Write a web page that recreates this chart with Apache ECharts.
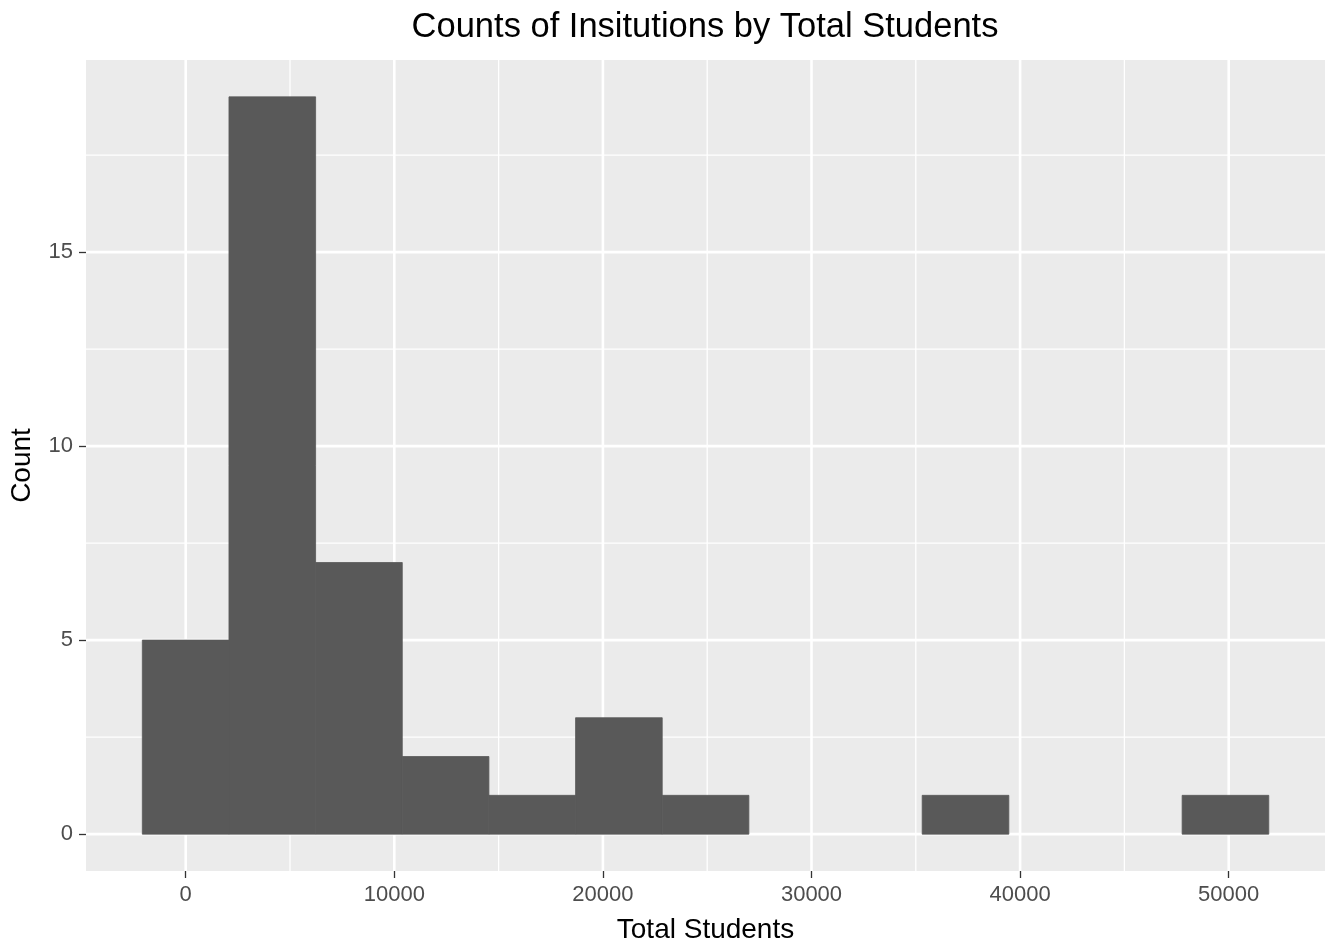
<!DOCTYPE html>
<html>
<head>
<meta charset="utf-8">
<script src="https://cdn.jsdelivr.net/npm/echarts@6/dist/echarts.min.js"></script>
<style>
html,body{margin:0;padding:0;background:#fff;overflow:hidden;}
#chart{width:1325px;height:949px;}
</style>
</head>
<body>
<div id="chart"></div>
<script>
// Histogram bins (Total Students) and counts
var binStarts = [-2080, 2074, 6228, 10382, 14536, 18690, 22844, 26998, 31152, 35306, 39460, 43614, 47768];
var binEnds   = [2074, 6228, 10382, 14536, 18690, 22844, 26998, 31152, 35306, 39460, 43614, 47768, 51922];
var counts    = [5, 19, 7, 2, 1, 3, 1, 0, 0, 1, 0, 0, 1];

// Axis ticks and grid lines
var xTicks = [0, 10000, 20000, 30000, 40000, 50000];
var xMinor = [5000, 15000, 25000, 35000, 45000];
var yTicks = [0, 5, 10, 15];
var yMinor = [2.5, 7.5, 12.5, 17.5];

var xMin = -4780, xMax = 54617;
var yMin = -0.95, yMax = 19.95;

var barData = binStarts.map(function (s, i) { return [s, binEnds[i], counts[i]]; });

var gridData = [];
xMinor.forEach(function (v) { gridData.push(['x', v, 1.3]); });
yMinor.forEach(function (v) { gridData.push(['y', v, 1.3]); });
xTicks.forEach(function (v) { gridData.push(['x', v, 2.6]); });
yTicks.forEach(function (v) { gridData.push(['y', v, 2.6]); });

var chart = echarts.init(document.getElementById('chart'), null, { renderer: 'canvas', width: 1325, height: 949 });
var font = '"Liberation Sans", Arial, sans-serif';

chart.setOption({
  animation: false,
  backgroundColor: '#ffffff',
  title: {
    text: 'Counts of Insitutions by Total Students',
    left: 705,
    top: 10,
    padding: 0,
    textAlign: 'center',
    textStyle: { fontFamily: font, fontSize: 34.5, fontWeight: 'normal', color: '#000000' }
  },
  grid: {
    left: 86, right: 0, top: 60, bottom: 75,
    show: true, backgroundColor: '#EBEBEB', borderWidth: 0
  },
  xAxis: {
    type: 'value',
    min: xMin, max: xMax,
    name: 'Total Students',
    nameLocation: 'middle',
    nameGap: 45,
    nameTextStyle: { fontFamily: font, fontSize: 28, color: '#000000' },
    axisLine: { show: false, onZero: false },
    axisTick: { show: true, customValues: xTicks, length: 7, lineStyle: { color: '#333333', width: 1.3 } },
    axisLabel: {
      customValues: xTicks, margin: 13, fontFamily: font, fontSize: 22, color: '#4D4D4D',
      formatter: function (v) { return String(v); }
    },
    splitLine: { show: false }
  },
  yAxis: {
    type: 'value',
    min: yMin, max: yMax,
    name: 'Count',
    nameLocation: 'middle',
    nameRotate: 90,
    nameGap: 50,
    nameTextStyle: { fontFamily: font, fontSize: 28, color: '#000000' },
    axisLine: { show: false, onZero: false },
    axisTick: { show: true, customValues: yTicks, length: 7, lineStyle: { color: '#333333', width: 1.3 } },
    axisLabel: {
      customValues: yTicks, margin: 13, fontFamily: font, fontSize: 22, color: '#4D4D4D',
      formatter: function (v) { return String(v); }
    },
    splitLine: { show: false }
  },
  series: [
    {
      type: 'custom',
      silent: true,
      data: gridData,
      encode: { x: -1, y: -1 },
      renderItem: function (params, api) {
        var cs = params.coordSys;
        var dir = api.value(0);
        var v = api.value(1);
        var w = api.value(2);
        var shape;
        if (dir === 'x') {
          var px = api.coord([v, 0])[0];
          shape = { x1: px, y1: cs.y, x2: px, y2: cs.y + cs.height };
        } else {
          var py = api.coord([0, v])[1];
          shape = { x1: cs.x, y1: py, x2: cs.x + cs.width, y2: py };
        }
        return { type: 'line', shape: shape, style: { stroke: '#FFFFFF', lineWidth: w } };
      }
    },
    {
      type: 'custom',
      data: barData,
      encode: { x: [0, 1], y: 2 },
      renderItem: function (params, api) {
        if (api.value(2) <= 0) { return null; }
        var p0 = api.coord([api.value(0), api.value(2)]);
        var p1 = api.coord([api.value(1), 0]);
        return {
          type: 'rect',
          shape: { x: p0[0], y: p0[1], width: p1[0] - p0[0], height: p1[1] - p0[1] },
          style: { fill: '#595959', stroke: '#595959', lineWidth: 0.8 }
        };
      }
    }
  ]
});
</script>
</body>
</html>
